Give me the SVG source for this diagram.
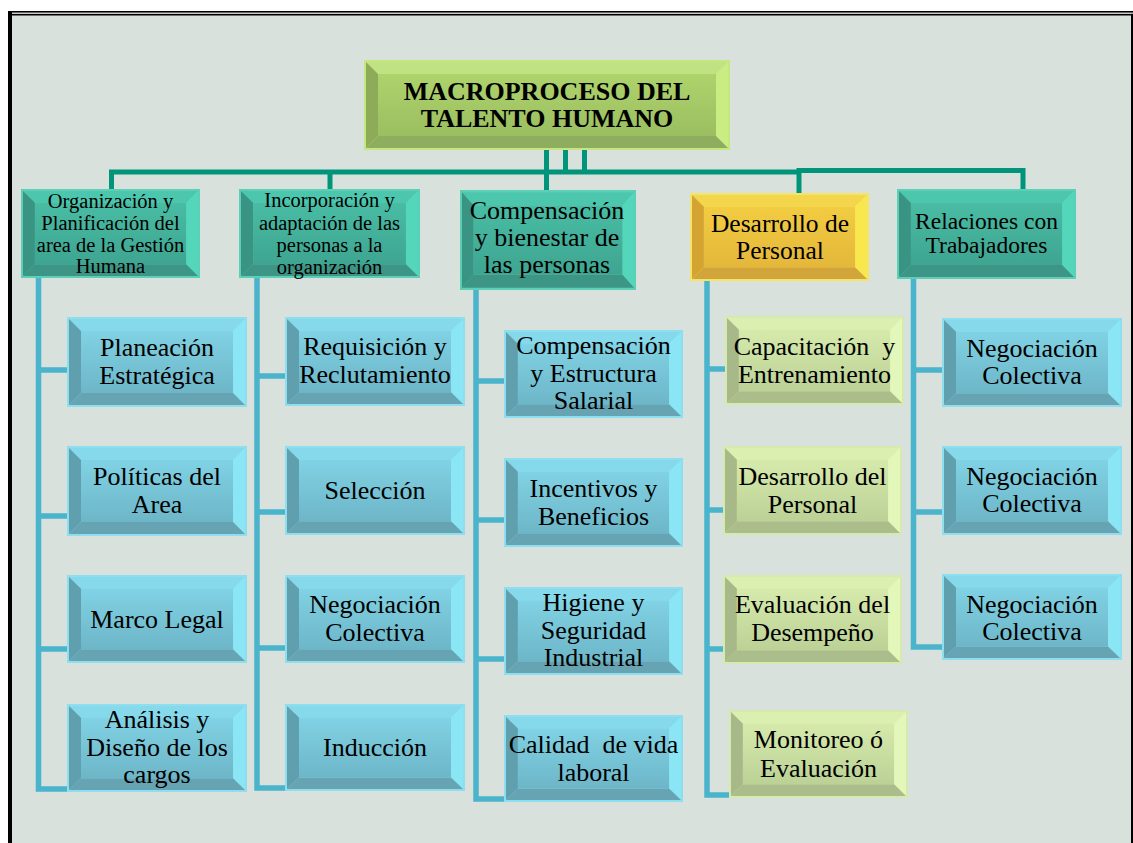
<svg xmlns="http://www.w3.org/2000/svg" width="1133" height="843" viewBox="0 0 1133 843">
  <style>
    .lbl { font-family: "Liberation Serif", "Times New Roman", serif; fill: #000; text-anchor: middle; }
    .l2 { font-size: 26px; }
    .l1s { font-size: 20.5px; }
    .ttl { font-size: 26px; font-weight: bold; }
    .trunk { fill: none; stroke: #00957a; stroke-width: 5; }
    .branch { fill: none; stroke: #4ab4cc; stroke-width: 5.5; }
  </style>
  <defs>
    <linearGradient id="gBlue" x1="0" y1="0" x2="0" y2="1">
      <stop offset="0" stop-color="#80d2e4"/><stop offset="1" stop-color="#6db6c8"/>
    </linearGradient>
    <linearGradient id="gLime" x1="0" y1="0" x2="0" y2="1">
      <stop offset="0" stop-color="#d6eaac"/><stop offset="1" stop-color="#bcd196"/>
    </linearGradient>
    <linearGradient id="gTeal" x1="0" y1="0" x2="0" y2="1">
      <stop offset="0" stop-color="#49bca4"/><stop offset="1" stop-color="#3ea591"/>
    </linearGradient>
    <linearGradient id="gGold" x1="0" y1="0" x2="0" y2="1">
      <stop offset="0" stop-color="#f2cc42"/><stop offset="1" stop-color="#e4b73a"/>
    </linearGradient>
    <linearGradient id="gLeaf" x1="0" y1="0" x2="0" y2="1">
      <stop offset="0" stop-color="#aed36c"/><stop offset="1" stop-color="#9bbe60"/>
    </linearGradient>

    <!-- bevelled box faces: outline, top, left, right, bottom, face -->
    <symbol id="bevBlue" viewBox="0 0 180 90" preserveAspectRatio="none">
      <rect width="180" height="90" fill="#8ddff0"/>
      <polygon points="2,2 178,2 166,14 14,14" fill="#86d9eb"/>
      <polygon points="2,2 14,14 14,76 2,88" fill="#5f9fae"/>
      <polygon points="178,2 178,88 166,76 166,14" fill="#8ae5f5"/>
      <polygon points="2,88 14,76 166,76 178,88" fill="#66a4b4"/>
      <rect x="14" y="14" width="152" height="62" fill="url(#gBlue)"/>
    </symbol>
    <symbol id="bevLime" viewBox="0 0 180 90" preserveAspectRatio="none">
      <rect width="180" height="90" fill="#d4eaae"/>
      <polygon points="2,2 178,2 166,14 14,14" fill="#dbf0b0"/>
      <polygon points="2,2 14,14 14,76 2,88" fill="#a7b988"/>
      <polygon points="178,2 178,88 166,76 166,14" fill="#e4f7bb"/>
      <polygon points="2,88 14,76 166,76 178,88" fill="#abbd8b"/>
      <rect x="14" y="14" width="152" height="62" fill="url(#gLime)"/>
    </symbol>
    <symbol id="bevTeal" viewBox="0 0 180 90" preserveAspectRatio="none">
      <rect width="180" height="90" fill="#5ccfb7"/>
      <polygon points="2,2 178,2 166,14 14,14" fill="#4cc7ae"/>
      <polygon points="2,2 14,14 14,76 2,88" fill="#399483"/>
      <polygon points="178,2 178,88 166,76 166,14" fill="#53d6ba"/>
      <polygon points="2,88 14,76 166,76 178,88" fill="#3d9685"/>
      <rect x="14" y="14" width="152" height="62" fill="url(#gTeal)"/>
    </symbol>
    <symbol id="bevGold" viewBox="0 0 180 90" preserveAspectRatio="none">
      <rect width="180" height="90" fill="#f4e46a"/>
      <polygon points="2,2 178,2 166,14 14,14" fill="#f3d64c"/>
      <polygon points="2,2 14,14 14,76 2,88" fill="#d4a433"/>
      <polygon points="178,2 178,88 166,76 166,14" fill="#f8e84e"/>
      <polygon points="2,88 14,76 166,76 178,88" fill="#d2a53a"/>
      <rect x="14" y="14" width="152" height="62" fill="url(#gGold)"/>
    </symbol>
    <symbol id="bevLeaf" viewBox="0 0 366 90" preserveAspectRatio="none">
      <rect width="366" height="90" fill="#c6e680"/>
      <polygon points="2,2 364,2 352,14 14,14" fill="#c0e282"/>
      <polygon points="2,2 14,14 14,76 2,88" fill="#8eab5a"/>
      <polygon points="364,2 364,88 352,76 352,14" fill="#c9ed82"/>
      <polygon points="2,88 14,76 352,76 364,88" fill="#8fad5f"/>
      <rect x="14" y="14" width="338" height="62" fill="url(#gLeaf)"/>
    </symbol>
  </defs>

  <!-- page frame -->
  <rect x="12" y="15" width="1119" height="828" fill="#d8e1dc"/>
  <rect x="8" y="11" width="1125" height="1.6" fill="#000"/>
  <rect x="10" y="13.8" width="1123" height="1.7" fill="#000"/>
  <rect x="8" y="11" width="4" height="832" fill="#000"/>
  <rect x="1131" y="13.8" width="2" height="829.2" fill="#000"/>

  <!-- connectors -->
  <g id="connectors">
    <path class="trunk" d="M546.5,150 V190 M565.5,150 V171 M584.5,150 V171"/>
    <path class="trunk" d="M111.5,189 V172 H800"/>
    <path class="trunk" d="M330,172 V189"/>
    <path class="trunk" d="M799,193 V170.5 H1023 V189"/>

    <path class="branch" d="M38.5,278 V789 H70 M38.5,370 H70 M38.5,516 H70 M38.5,649 H70"/>
    <path class="branch" d="M257,278 V788 H288 M257,376 H288 M257,512 H288 M257,648 H288"/>
    <path class="branch" d="M476,290 V799 H507 M476,381 H507 M476,520 H507 M476,659 H507"/>
    <path class="branch" d="M707,281 V795 H732 M707,369 H728 M707,510 H726 M707,649 H726"/>
    <path class="branch" d="M913.5,279 V647 H945 M913.5,370 H945 M913.5,512 H945"/>
  </g>

  <!-- root -->
  <g id="root">
    <use href="#bevLeaf" x="364" y="60" width="366" height="90"/>
    <text class="lbl ttl" x="547" y="100">MACROPROCESO DEL</text>
    <text class="lbl ttl" x="547" y="127">TALENTO HUMANO</text>
  </g>

  <!-- first level -->
  <g id="org">
    <use href="#bevTeal" x="21" y="189" width="179" height="89"/>
    <text class="lbl l1s" x="110.5" y="208">Organización  y</text>
    <text class="lbl l1s" x="110.5" y="230">Planificación del</text>
    <text class="lbl l1s" x="110.5" y="251.5">area de la Gestión</text>
    <text class="lbl l1s" x="110.5" y="273">Humana</text>
  </g>
  <g id="incorporacion">
    <use href="#bevTeal" x="239" y="189" width="181" height="89"/>
    <text class="lbl l1s" x="329.5" y="207">Incorporación  y</text>
    <text class="lbl l1s" x="329.5" y="229.5">adaptación de las</text>
    <text class="lbl l1s" x="329.5" y="252">personas a la</text>
    <text class="lbl l1s" x="329.5" y="273.5">organización</text>
  </g>
  <g id="compensacion">
    <use href="#bevTeal" x="460" y="190" width="176" height="100"/>
    <text class="lbl l2" x="547" y="219">Compensación</text>
    <text class="lbl l2" x="547" y="246">y bienestar de</text>
    <text class="lbl l2" x="547" y="273">las personas</text>
  </g>
  <g id="desarrollo">
    <use href="#bevGold" x="690" y="193" width="179" height="88"/>
    <text class="lbl" style="font-size:25.5px" x="780" y="232">Desarrollo de</text>
    <text class="lbl" style="font-size:25.5px" x="780" y="259">Personal</text>
  </g>
  <g id="relaciones">
    <use href="#bevTeal" x="897" y="189" width="179" height="90"/>
    <text class="lbl" style="font-size:23.5px" x="986.5" y="229">Relaciones con</text>
    <text class="lbl" style="font-size:23.5px" x="986.5" y="253">Trabajadores</text>
  </g>

  <!-- column 1 -->
  <g id="planeacion">
    <use href="#bevBlue" x="67" y="317" width="180" height="90"/>
    <text class="lbl l2" x="157" y="356">Planeación</text>
    <text class="lbl l2" x="157" y="384">Estratégica</text>
  </g>
  <g id="politicas">
    <use href="#bevBlue" x="67" y="446" width="180" height="90"/>
    <text class="lbl l2" x="157" y="485">Políticas del</text>
    <text class="lbl l2" x="157" y="513">Area</text>
  </g>
  <g id="marco">
    <use href="#bevBlue" x="67" y="575" width="180" height="88"/>
    <text class="lbl l2" x="157" y="628">Marco Legal</text>
  </g>
  <g id="analisis">
    <use href="#bevBlue" x="67" y="704" width="180" height="88"/>
    <text class="lbl l2" x="157" y="728">Análisis y</text>
    <text class="lbl l2" x="157" y="756">Diseño de los</text>
    <text class="lbl l2" x="157" y="783">cargos</text>
  </g>

  <!-- column 2 -->
  <g id="requisicion">
    <use href="#bevBlue" x="285" y="317" width="180" height="89"/>
    <text class="lbl l2" x="375" y="355">Requisición y</text>
    <text class="lbl l2" x="375" y="383">Reclutamiento</text>
  </g>
  <g id="seleccion">
    <use href="#bevBlue" x="285" y="446" width="180" height="89"/>
    <text class="lbl l2" x="375" y="499">Selección</text>
  </g>
  <g id="negociacion-a">
    <use href="#bevBlue" x="285" y="575" width="180" height="88"/>
    <text class="lbl l2" x="375" y="613">Negociación</text>
    <text class="lbl l2" x="375" y="641">Colectiva</text>
  </g>
  <g id="induccion">
    <use href="#bevBlue" x="285" y="704" width="180" height="87"/>
    <text class="lbl l2" x="375" y="756">Inducción</text>
  </g>

  <!-- column 3 -->
  <g id="estructura">
    <use href="#bevBlue" x="504" y="330" width="179" height="88"/>
    <text class="lbl l2" x="593.5" y="354">Compensación</text>
    <text class="lbl l2" x="593.5" y="381.5">y Estructura</text>
    <text class="lbl l2" x="593.5" y="409">Salarial</text>
  </g>
  <g id="incentivos">
    <use href="#bevBlue" x="504" y="458" width="179" height="89"/>
    <text class="lbl l2" x="593.5" y="497">Incentivos y</text>
    <text class="lbl l2" x="593.5" y="524.5">Beneficios</text>
  </g>
  <g id="higiene">
    <use href="#bevBlue" x="504" y="587" width="179" height="88"/>
    <text class="lbl l2" x="593.5" y="611">Higiene y</text>
    <text class="lbl l2" x="593.5" y="638.5">Seguridad</text>
    <text class="lbl l2" x="593.5" y="666">Industrial</text>
  </g>
  <g id="calidad">
    <use href="#bevBlue" x="504" y="715" width="179" height="87"/>
    <text class="lbl l2" x="593.5" y="753">Calidad&#160; de vida</text>
    <text class="lbl l2" x="593.5" y="781">laboral</text>
  </g>

  <!-- column 4 -->
  <g id="capacitacion">
    <use href="#bevLime" x="725" y="316" width="179" height="89"/>
    <text class="lbl l2" x="814.5" y="355">Capacitación&#160; y</text>
    <text class="lbl l2" x="814.5" y="382.5">Entrenamiento</text>
  </g>
  <g id="desarrollo-personal">
    <use href="#bevLime" x="723" y="446" width="179" height="89"/>
    <text class="lbl l2" x="812.5" y="485">Desarrollo del</text>
    <text class="lbl l2" x="812.5" y="512.5">Personal</text>
  </g>
  <g id="evaluacion">
    <use href="#bevLime" x="723" y="575" width="179" height="89"/>
    <text class="lbl l2" x="812.5" y="613">Evaluación del</text>
    <text class="lbl l2" x="812.5" y="641">Desempeño</text>
  </g>
  <g id="monitoreo">
    <use href="#bevLime" x="729" y="710" width="179" height="88"/>
    <text class="lbl l2" x="818.5" y="748">Monitoreo ó</text>
    <text class="lbl l2" x="818.5" y="777">Evaluación</text>
  </g>

  <!-- column 5 -->
  <g id="negociacion-1">
    <use href="#bevBlue" x="942" y="318" width="180" height="89"/>
    <text class="lbl l2" x="1032" y="357">Negociación</text>
    <text class="lbl l2" x="1032" y="384">Colectiva</text>
  </g>
  <g id="negociacion-2">
    <use href="#bevBlue" x="942" y="446" width="180" height="89"/>
    <text class="lbl l2" x="1032" y="485">Negociación</text>
    <text class="lbl l2" x="1032" y="512">Colectiva</text>
  </g>
  <g id="negociacion-3">
    <use href="#bevBlue" x="942" y="574" width="180" height="86"/>
    <text class="lbl l2" x="1032" y="613">Negociación</text>
    <text class="lbl l2" x="1032" y="640">Colectiva</text>
  </g>
</svg>
